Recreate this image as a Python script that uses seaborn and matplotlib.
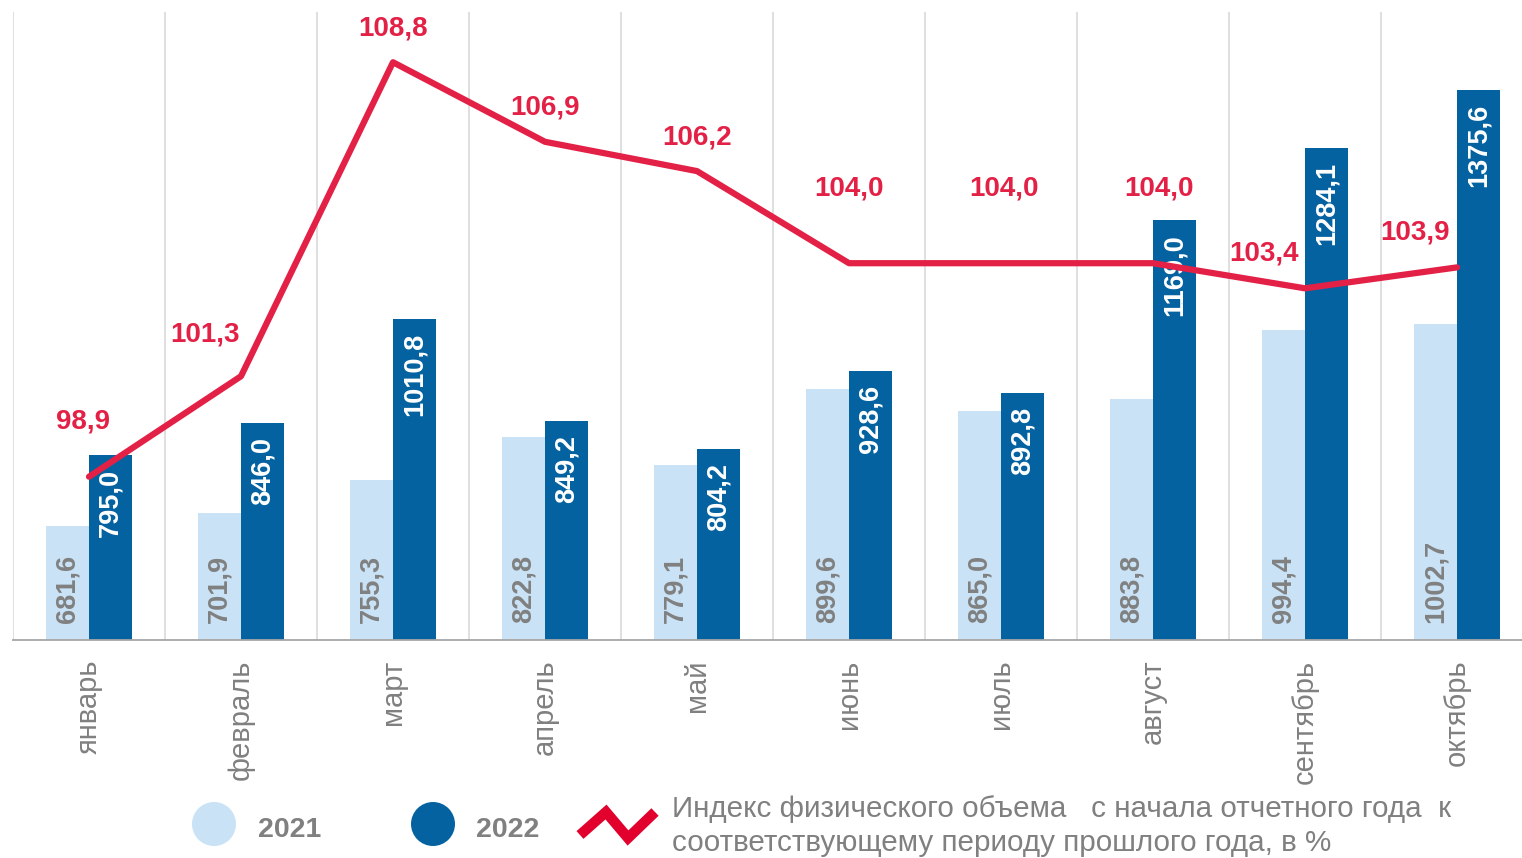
import numpy as np
import pandas as pd
import matplotlib
matplotlib.use("Agg")
import matplotlib.pyplot as plt
import seaborn as sns

# -- Data -----------------------------------------------------------------------
months = ["январь", "февраль", "март", "апрель", "май",
          "июнь", "июль", "август", "сентябрь", "октябрь"]
vals_2021 = [681.6, 701.9, 755.3, 822.8, 779.1, 899.6, 865.0, 883.8, 994.4, 1002.7]
vals_2022 = [795.0, 846.0, 1010.8, 849.2, 804.2, 928.6, 892.8, 1169.0, 1284.1, 1375.6]
index_vals = [98.9, 101.3, 108.8, 106.9, 106.2, 104.0, 104.0, 104.0, 103.4, 103.9]
years = ["2021", "2022"]
legend_text = ("Индекс физического объема   с начала отчетного года  к\n"
               "соответствующему периоду прошлого года, в %")

# -- Styles ---------------------------------------------------------------------
C_LIGHT = "#c9e2f6"
C_DARK = "#0562a0"
C_RED = "#e32146"
C_LEG_RED = "#e2002d"
C_GRAY = "#808080"

# label offsets (pixels) for the index labels
idx_offsets = [(-6, 55), (-36, 42), (0, 34), (0, 34), (0, 34),
               (0, 75), (3, 75), (6, 75), (-41, 35), (-42, 35)]

sns.set_style("white")
plt.rcParams["font.family"] = ["Liberation Sans", "DejaVu Sans"]


def fmt(v):
    return f"{v:.1f}".replace(".", ",")


df = pd.DataFrame({
    "month": months * 2,
    "year": [years[0]] * len(months) + [years[1]] * len(months),
    "value": vals_2021 + vals_2022,
})

fig = plt.figure(figsize=(15.22, 8.58), dpi=100)
ax = fig.add_axes([13 / 1522, 218 / 858, 1520 / 1522, 628 / 858])

sns.barplot(data=df, x="month", y="value", hue="year", hue_order=years,
            order=months, palette=[C_LIGHT, C_DARK], width=0.566,
            saturation=1, legend=False, linewidth=0, ax=ax)
ax.set_ylim(500, 1500)
ax.set_xlim(-0.5, len(months) - 0.5)

# bar value labels
c21, c22 = ax.containers[0], ax.containers[1]
for p, v in zip(c21, vals_2021):
    ax.annotate(fmt(v), (p.get_x() + p.get_width() / 2, 500),
                xytext=(0, 17), textcoords="offset pixels",
                rotation=90, ha="center", va="bottom",
                fontsize=19.5, fontweight="bold", color=C_GRAY)
for p, v in zip(c22, vals_2022):
    ax.annotate(fmt(v), (p.get_x() + p.get_width() / 2, p.get_height()),
                xytext=(0, -14), textcoords="offset pixels",
                rotation=90, ha="center", va="top",
                fontsize=19.5, fontweight="bold", color="white")

# axes styling
for s in ["left", "right", "top"]:
    ax.spines[s].set_visible(False)
ax.spines["bottom"].set_color("#a6a6a6")
ax.spines["bottom"].set_linewidth(1.3)
ax.set_yticks([])
ax.set_xlabel("")
ax.set_ylabel("")
ax.set_xticks(np.arange(-0.5, len(months)), minor=True)
ax.tick_params(axis="x", which="minor", length=6, width=1.2, color="#a6a6a6",
               direction="out")
ax.tick_params(axis="x", which="major", length=0, pad=14, labelsize=21,
               labelcolor=C_GRAY, labelrotation=90)
ax.grid(False)
ax.grid(True, which="minor", axis="x", color="#d9d9d9", linewidth=1.2)
ax.set_axisbelow(True)

# index line on secondary axis
ax2 = ax.twinx()
sns.lineplot(x=np.arange(len(months)), y=index_vals, ax=ax2, color=C_RED,
             linewidth=4.5, solid_capstyle="round", solid_joinstyle="round")
ax2.set_ylim(95, 110)
ax2.set_xlim(-0.5, len(months) - 0.5)
ax2.set_yticks([])
ax2.set_ylabel("")
for s in ax2.spines.values():
    s.set_visible(False)
for i, (v, off) in enumerate(zip(index_vals, idx_offsets)):
    ax2.annotate(fmt(v), (i, v), xytext=off, textcoords="offset pixels",
                 ha="center", va="center", fontsize=20, fontweight="bold",
                 color=C_RED)

# -- Legend (drawn in pixel space) --------------------------------------------
lax = fig.add_axes([0, 0, 1, 1])
lax.set_xlim(0, 1522)
lax.set_ylim(858, 0)
lax.axis("off")
lax.patch.set_alpha(0)
lax.scatter([214], [824], s=(44 * 0.72) ** 2, color=C_LIGHT, edgecolor="none")
lax.scatter([433], [824], s=(44 * 0.72) ** 2, color=C_DARK, edgecolor="none")
lax.text(258, 830, years[0], fontsize=20.5, fontweight="bold", color=C_GRAY,
         ha="left", va="center")
lax.text(476, 830, years[1], fontsize=20.5, fontweight="bold", color=C_GRAY,
         ha="left", va="center")
lax.plot([580, 606, 628, 655], [835, 812, 838, 812], color=C_LEG_RED,
         linewidth=7.5, solid_joinstyle="miter", solid_capstyle="butt")
lax.text(672, 826, legend_text, fontsize=21.3, color=C_GRAY, ha="left",
         va="center", linespacing=1.25)

fig.savefig("out.png", dpi=100)
